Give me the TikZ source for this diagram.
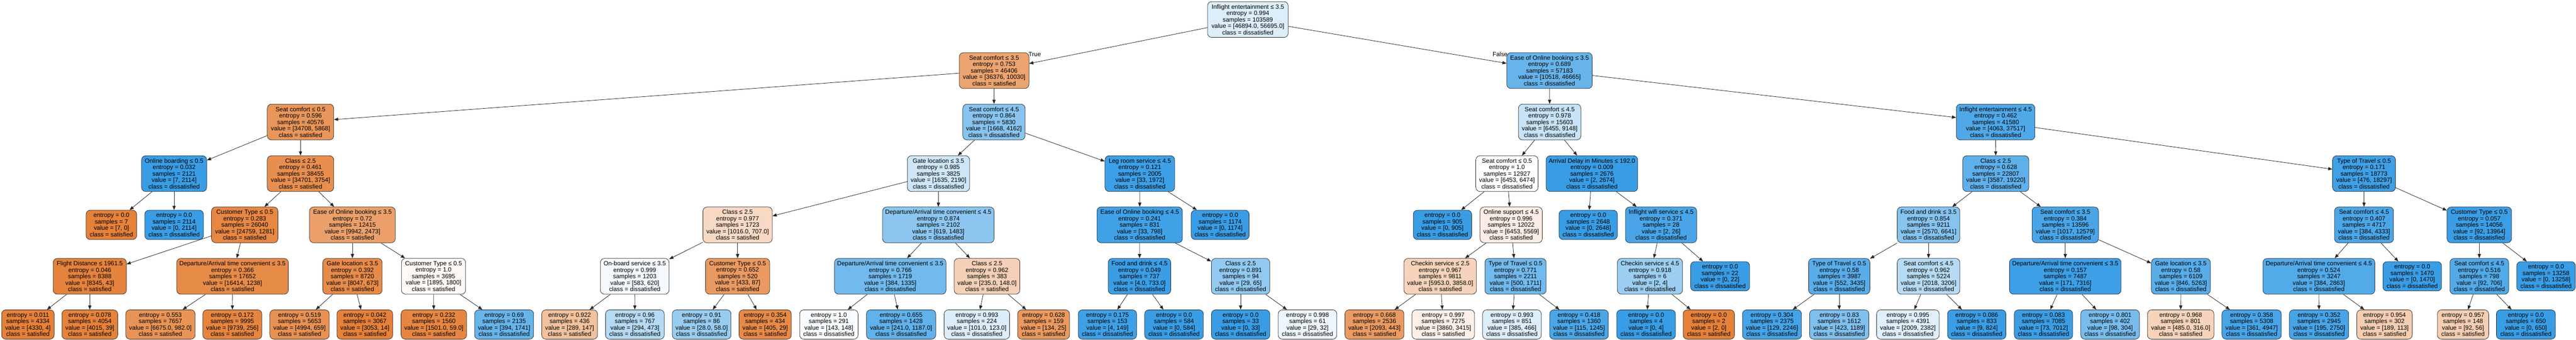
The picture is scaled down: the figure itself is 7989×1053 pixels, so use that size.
\documentclass[tikz,border=0pt]{standalone}
\usepackage{fontspec}
\setmainfont{Liberation Sans}
\usetikzlibrary{arrows.meta}
\definecolor{sat}{RGB}{229,129,57}
\definecolor{dis}{RGB}{57,157,229}
\tikzset{
  tbox/.style={draw=black!85, line width=1.2pt, rounded corners=13pt, inner sep=0pt,
    align=center, font=\fontsize{19}{20}\selectfont, text=black, minimum height=111pt},
  lbox/.style={tbox, minimum height=91pt},
  sfill/.style={fill=sat!#1!white},
  dfill/.style={fill=dis!#1!white},
  edge/.style={draw=black!85, line width=1.3pt, -{Triangle[length=13pt,width=10pt]}},
  tflabel/.style={inner sep=0pt, font=\fontsize{19}{20}\selectfont}
}
\begin{document}
\begin{tikzpicture}[x=1pt,y=-1pt]
\useasboundingbox[fill=white] (0,0) rectangle (7989,1053);
% level 0
\node[tbox,dfill=17,minimum width=250pt] (n0) at (3870,60.5) {Inflight entertainment ≤ 3.5\\entropy = 0.994\\samples = 103589\\value = [46894.0, 56695.0]\\class = dissatisfied};
% level 1
\node[tbox,sfill=72,minimum width=216pt] (n1) at (3083,219) {Seat comfort ≤ 3.5\\entropy = 0.753\\samples = 46406\\value = [36376, 10030]\\class = satisfied};
\node[tbox,dfill=77,minimum width=265pt] (n2) at (4805.5,219) {Ease of Online booking ≤ 3.5\\entropy = 0.689\\samples = 57183\\value = [10518, 46665]\\class = dissatisfied};
% level 2
\node[tbox,sfill=83,minimum width=206pt] (a) at (932,378.5) {Seat comfort ≤ 0.5\\entropy = 0.596\\samples = 40576\\value = [34708, 5868]\\class = satisfied};
\node[tbox,dfill=60,minimum width=193pt] (b) at (3082.5,378.5) {Seat comfort ≤ 4.5\\entropy = 0.864\\samples = 5830\\value = [1668, 4162]\\class = dissatisfied};
\node[tbox,dfill=29,minimum width=194pt] (c) at (4806,378.5) {Seat comfort ≤ 4.5\\entropy = 0.978\\samples = 15603\\value = [6455, 9148]\\class = dissatisfied};
\node[tbox,dfill=89,minimum width=244pt] (d) at (6189,378.5) {Inflight entertainment ≤ 4.5\\entropy = 0.462\\samples = 41580\\value = [4063, 37517]\\class = dissatisfied};
% level 3
\node[tbox,dfill=100,minimum width=202pt] (a1) at (540,538.5) {Online boarding ≤ 0.5\\entropy = 0.032\\samples = 2121\\value = [7, 2114]\\class = dissatisfied};
\node[tbox,sfill=89,minimum width=206pt] (a2) at (932,538.5) {Class ≤ 2.5\\entropy = 0.461\\samples = 38455\\value = [34701, 3754]\\class = satisfied};
\node[tbox,dfill=25,minimum width=193pt] (b1) at (2910.5,538.5) {Gate location ≤ 3.5\\entropy = 0.985\\samples = 3825\\value = [1635, 2190]\\class = dissatisfied};
\node[tbox,dfill=98,minimum width=216pt] (b2) at (3535,538.5) {Leg room service ≤ 4.5\\entropy = 0.121\\samples = 2005\\value = [33, 1972]\\class = dissatisfied};
\node[tbox,dfill=0,minimum width=193pt] (c1) at (4673.5,538.5) {Seat comfort ≤ 0.5\\entropy = 1.0\\samples = 12927\\value = [6453, 6474]\\class = dissatisfied};
\node[tbox,dfill=100,minimum width=284pt] (c2) at (4937,538.5) {Arrival Delay in Minutes ≤ 192.0\\entropy = 0.009\\samples = 2676\\value = [2, 2674]\\class = dissatisfied};
\node[tbox,dfill=81,minimum width=205pt] (d1) at (6189.5,538.5) {Class ≤ 2.5\\entropy = 0.628\\samples = 22807\\value = [3587, 19220]\\class = dissatisfied};
\node[tbox,dfill=97,minimum width=195pt] (d2) at (7331.5,538.5) {Type of Travel ≤ 0.5\\entropy = 0.171\\samples = 18773\\value = [476, 18297]\\class = dissatisfied};
% level 4
\node[lbox,sfill=100,minimum width=157pt] (a1L) at (345.5,697.5) {entropy = 0.0\\samples = 7\\value = [7, 0]\\class = satisfied};
\node[lbox,dfill=100,minimum width=182pt] (a1R) at (540,697.5) {entropy = 0.0\\samples = 2114\\value = [0, 2114]\\class = dissatisfied};
\node[tbox,sfill=95,minimum width=206pt] (a2L) at (759,697.5) {Customer Type ≤ 0.5\\entropy = 0.283\\samples = 26040\\value = [24759, 1281]\\class = satisfied};
\node[tbox,sfill=75,minimum width=266pt] (a2R) at (1093,697.5) {Ease of Online booking ≤ 3.5\\entropy = 0.72\\samples = 12415\\value = [9942, 2473]\\class = satisfied};
\node[tbox,sfill=30,minimum width=215pt] (b1L) at (2287.5,697.5) {Class ≤ 2.5\\entropy = 0.977\\samples = 1723\\value = [1016.0, 707.0]\\class = satisfied};
\node[tbox,dfill=58,minimum width=346pt] (b1R) at (2910,697.5) {Departure/Arrival time convenient ≤ 4.5\\entropy = 0.874\\samples = 2102\\value = [619, 1483]\\class = dissatisfied};
\node[tbox,dfill=96,minimum width=265pt] (b2L) at (3534.5,697.5) {Ease of Online booking ≤ 4.5\\entropy = 0.241\\samples = 831\\value = [33, 798]\\class = dissatisfied};
\node[lbox,dfill=100,minimum width=180pt] (b2R) at (3784,697.5) {entropy = 0.0\\samples = 1174\\value = [0, 1174]\\class = dissatisfied};
\node[lbox,dfill=100,minimum width=181pt] (c1L) at (4473.5,697.5) {entropy = 0.0\\samples = 905\\value = [0, 905]\\class = dissatisfied};
\node[tbox,sfill=14,minimum width=193pt] (c1R) at (4686.5,697.5) {Online support ≤ 4.5\\entropy = 0.996\\samples = 12022\\value = [6453, 5569]\\class = satisfied};
\node[lbox,dfill=100,minimum width=181pt] (c2L) at (4925.5,697.5) {entropy = 0.0\\samples = 2648\\value = [0, 2648]\\class = dissatisfied};
\node[tbox,dfill=92,minimum width=221pt] (c2R) at (5151.5,697.5) {Inflight wifi service ≤ 4.5\\entropy = 0.371\\samples = 28\\value = [2, 26]\\class = dissatisfied};
\node[tbox,dfill=61,minimum width=194pt] (d1L) at (5981,697.5) {Food and drink ≤ 3.5\\entropy = 0.854\\samples = 9211\\value = [2570, 6641]\\class = dissatisfied};
\node[tbox,dfill=92,minimum width=206pt] (d1R) at (6405,697.5) {Seat comfort ≤ 3.5\\entropy = 0.384\\samples = 13596\\value = [1017, 12579]\\class = dissatisfied};
\node[tbox,dfill=91,minimum width=183pt] (d2L) at (7331.5,697.5) {Seat comfort ≤ 4.5\\entropy = 0.407\\samples = 4717\\value = [384, 4333]\\class = dissatisfied};
\node[tbox,dfill=99,minimum width=200pt] (d2R) at (7689,697.5) {Customer Type ≤ 0.5\\entropy = 0.057\\samples = 14056\\value = [92, 13964]\\class = dissatisfied};
% level 5
\node[tbox,sfill=99,minimum width=227pt] (e1) at (278.5,857) {Flight Distance ≤ 1961.5\\entropy = 0.046\\samples = 8388\\value = [8345, 43]\\class = satisfied};
\node[tbox,sfill=92,minimum width=346pt] (e2) at (721,857) {Departure/Arrival time convenient ≤ 3.5\\entropy = 0.366\\samples = 17652\\value = [16414, 1238]\\class = satisfied};
\node[tbox,sfill=92,minimum width=184pt] (e3) at (1093,857) {Gate location ≤ 3.5\\entropy = 0.392\\samples = 8720\\value = [8047, 673]\\class = satisfied};
\node[tbox,sfill=5,minimum width=199pt] (e4) at (1344.5,857) {Customer Type ≤ 0.5\\entropy = 1.0\\samples = 3695\\value = [1895, 1800]\\class = satisfied};
\node[tbox,dfill=6,minimum width=213pt] (e5) at (1968.5,857) {On-board service ≤ 3.5\\entropy = 0.999\\samples = 1203\\value = [583, 620]\\class = dissatisfied};
\node[tbox,sfill=80,minimum width=199pt] (e6) at (2287.5,857) {Customer Type ≤ 0.5\\entropy = 0.652\\samples = 520\\value = [433, 87]\\class = satisfied};
\node[tbox,dfill=71,minimum width=346pt] (e7) at (2761,857) {Departure/Arrival time convenient ≤ 3.5\\entropy = 0.766\\samples = 1719\\value = [384, 1335]\\class = dissatisfied};
\node[tbox,sfill=37,minimum width=204pt] (e8) at (3061,857) {Class ≤ 2.5\\entropy = 0.962\\samples = 383\\value = [235.0, 148.0]\\class = satisfied};
\node[tbox,dfill=99,minimum width=194pt] (e9) at (3534,857) {Food and drink ≤ 4.5\\entropy = 0.049\\samples = 737\\value = [4.0, 733.0]\\class = dissatisfied};
\node[tbox,dfill=55,minimum width=181pt] (e10) at (3847.5,857) {Class ≤ 2.5\\entropy = 0.891\\samples = 94\\value = [29, 65]\\class = dissatisfied};
\node[tbox,sfill=35,minimum width=225pt] (e11) at (4466.5,857) {Checkin service ≤ 2.5\\entropy = 0.967\\samples = 9811\\value = [5953.0, 3858.0]\\class = satisfied};
\node[tbox,dfill=71,minimum width=190pt] (e12) at (4700,857) {Type of Travel ≤ 0.5\\entropy = 0.771\\samples = 2211\\value = [500, 1711]\\class = dissatisfied};
\node[tbox,dfill=50,minimum width=202pt] (e13) at (5117,857) {Checkin service ≤ 4.5\\entropy = 0.918\\samples = 6\\value = [2, 4]\\class = dissatisfied};
\node[lbox,dfill=100,minimum width=183pt] (e14) at (5334.5,857) {entropy = 0.0\\samples = 22\\value = [0, 22]\\class = dissatisfied};
\node[tbox,dfill=84,minimum width=190pt] (e15) at (5704,857) {Type of Travel ≤ 0.5\\entropy = 0.58\\samples = 3987\\value = [552, 3435]\\class = dissatisfied};
\node[tbox,dfill=37,minimum width=194pt] (e16) at (5981,857) {Seat comfort ≤ 4.5\\entropy = 0.962\\samples = 5224\\value = [2018, 3206]\\class = dissatisfied};
\node[tbox,dfill=98,minimum width=346pt] (e17) at (6405,857) {Departure/Arrival time convenient ≤ 3.5\\entropy = 0.157\\samples = 7487\\value = [171, 7316]\\class = dissatisfied};
\node[tbox,dfill=84,minimum width=183pt] (e18) at (6763.5,857) {Gate location ≤ 3.5\\entropy = 0.58\\samples = 6109\\value = [846, 5263]\\class = dissatisfied};
\node[tbox,dfill=87,minimum width=347pt] (e19) at (7191.5,857) {Departure/Arrival time convenient ≤ 4.5\\entropy = 0.524\\samples = 3247\\value = [384, 2863]\\class = dissatisfied};
\node[lbox,dfill=100,minimum width=182pt] (e20) at (7481,857) {entropy = 0.0\\samples = 1470\\value = [0, 1470]\\class = dissatisfied};
\node[tbox,dfill=87,minimum width=182pt] (e21) at (7689,857) {Seat comfort ≤ 4.5\\entropy = 0.516\\samples = 798\\value = [92, 706]\\class = dissatisfied};
\node[lbox,dfill=100,minimum width=182pt] (e22) at (7896,857) {entropy = 0.0\\samples = 13258\\value = [0, 13258]\\class = dissatisfied};
% level 6
\node[lbox,sfill=100,minimum width=163pt] (f1) at (86.5,1006.5) {entropy = 0.011\\samples = 4334\\value = [4330, 4]\\class = satisfied};
\node[lbox,sfill=99,minimum width=173pt] (f2) at (278.5,1006.5) {entropy = 0.078\\samples = 4054\\value = [4015, 39]\\class = satisfied};
\node[lbox,sfill=85,minimum width=215pt] (f3) at (497.5,1006.5) {entropy = 0.553\\samples = 7657\\value = [6675.0, 982.0]\\class = satisfied};
\node[lbox,sfill=97,minimum width=183pt] (f4) at (720.5,1006.5) {entropy = 0.172\\samples = 9995\\value = [9739, 256]\\class = satisfied};
\node[lbox,sfill=87,minimum width=184pt] (f5) at (929,1006.5) {entropy = 0.519\\samples = 5653\\value = [4994, 659]\\class = satisfied};
\node[lbox,sfill=100,minimum width=173pt] (f6) at (1131.5,1006.5) {entropy = 0.042\\samples = 3067\\value = [3053, 14]\\class = satisfied};
\node[lbox,sfill=96,minimum width=203pt] (f7) at (1345.5,1006.5) {entropy = 0.232\\samples = 1560\\value = [1501.0, 59.0]\\class = satisfied};
\node[lbox,dfill=77,minimum width=183pt] (f8) at (1563.5,1006.5) {entropy = 0.69\\samples = 2135\\value = [394, 1741]\\class = dissatisfied};
\node[lbox,sfill=49,minimum width=173pt] (f9) at (1766.5,1006.5) {entropy = 0.922\\samples = 436\\value = [289, 147]\\class = satisfied};
\node[lbox,dfill=38,minimum width=182pt] (f10) at (1969,1006.5) {entropy = 0.96\\samples = 767\\value = [294, 473]\\class = dissatisfied};
\node[lbox,dfill=52,minimum width=182pt] (f11) at (2176,1006.5) {entropy = 0.91\\samples = 86\\value = [28.0, 58.0]\\class = dissatisfied};
\node[lbox,sfill=93,minimum width=162pt] (f12) at (2373,1006.5) {entropy = 0.354\\samples = 434\\value = [405, 29]\\class = satisfied};
\node[lbox,dfill=3,minimum width=181pt] (f13) at (2570.5,1006.5) {entropy = 1.0\\samples = 291\\value = [143, 148]\\class = dissatisfied};
\node[lbox,dfill=80,minimum width=215pt] (f14) at (2794.5,1006.5) {entropy = 0.655\\samples = 1428\\value = [241.0, 1187.0]\\class = dissatisfied};
\node[lbox,dfill=18,minimum width=203pt] (f15) at (3029.5,1006.5) {entropy = 0.993\\samples = 224\\value = [101.0, 123.0]\\class = dissatisfied};
\node[lbox,sfill=81,minimum width=161pt] (f16) at (3236.5,1006.5) {entropy = 0.628\\samples = 159\\value = [134, 25]\\class = satisfied};
\node[lbox,dfill=97,minimum width=181pt] (f17) at (3434.5,1006.5) {entropy = 0.175\\samples = 153\\value = [4, 149]\\class = dissatisfied};
\node[lbox,dfill=100,minimum width=182pt] (f18) at (3641,1006.5) {entropy = 0.0\\samples = 584\\value = [0, 584]\\class = dissatisfied};
\node[lbox,dfill=100,minimum width=181pt] (f19) at (3847.5,1006.5) {entropy = 0.0\\samples = 33\\value = [0, 33]\\class = dissatisfied};
\node[lbox,dfill=9,minimum width=182pt] (f20) at (4055,1006.5) {entropy = 0.998\\samples = 61\\value = [29, 32]\\class = dissatisfied};
\node[lbox,sfill=79,minimum width=183pt] (f21) at (4262.5,1006.5) {entropy = 0.668\\samples = 2536\\value = [2093, 443]\\class = satisfied};
\node[lbox,sfill=12,minimum width=194pt] (f22) at (4476,1006.5) {entropy = 0.997\\samples = 7275\\value = [3860, 3415]\\class = satisfied};
\node[lbox,dfill=17,minimum width=182pt] (f23) at (4689,1006.5) {entropy = 0.993\\samples = 851\\value = [385, 466]\\class = dissatisfied};
\node[lbox,dfill=91,minimum width=182pt] (f24) at (4897,1006.5) {entropy = 0.418\\samples = 1360\\value = [115, 1245]\\class = dissatisfied};
\node[lbox,dfill=100,minimum width=182pt] (f25) at (5105,1006.5) {entropy = 0.0\\samples = 4\\value = [0, 4]\\class = dissatisfied};
\node[lbox,sfill=100,minimum width=159pt] (f26) at (5299.5,1006.5) {entropy = 0.0\\samples = 2\\value = [2, 0]\\class = satisfied};
\node[lbox,dfill=94,minimum width=183pt] (f27) at (5495.5,1006.5) {entropy = 0.304\\samples = 2375\\value = [129, 2246]\\class = dissatisfied};
\node[lbox,dfill=64,minimum width=184pt] (f28) at (5704,1006.5) {entropy = 0.83\\samples = 1612\\value = [423, 1189]\\class = dissatisfied};
\node[lbox,dfill=16,minimum width=194pt] (f29) at (5917,1006.5) {entropy = 0.995\\samples = 4391\\value = [2009, 2382]\\class = dissatisfied};
\node[lbox,dfill=99,minimum width=181pt] (f30) at (6130.5,1006.5) {entropy = 0.086\\samples = 833\\value = [9, 824]\\class = dissatisfied};
\node[lbox,dfill=99,minimum width=181pt] (f31) at (6337.5,1006.5) {entropy = 0.083\\samples = 7085\\value = [73, 7012]\\class = dissatisfied};
\node[lbox,dfill=68,minimum width=182pt] (f32) at (6544,1006.5) {entropy = 0.801\\samples = 402\\value = [98, 304]\\class = dissatisfied};
\node[lbox,sfill=35,minimum width=206pt] (f33) at (6763,1006.5) {entropy = 0.968\\samples = 801\\value = [485.0, 316.0]\\class = satisfied};
\node[lbox,dfill=93,minimum width=184pt] (f34) at (6983,1006.5) {entropy = 0.358\\samples = 5308\\value = [361, 4947]\\class = dissatisfied};
\node[lbox,dfill=93,minimum width=184pt] (f35) at (7192,1006.5) {entropy = 0.352\\samples = 2945\\value = [195, 2750]\\class = dissatisfied};
\node[lbox,sfill=40,minimum width=172pt] (f36) at (7395,1006.5) {entropy = 0.954\\samples = 302\\value = [189, 113]\\class = satisfied};
\node[lbox,sfill=39,minimum width=159pt] (f37) at (7638.5,1006.5) {entropy = 0.957\\samples = 148\\value = [92, 56]\\class = satisfied};
\node[lbox,dfill=100,minimum width=183pt] (f38) at (7833.5,1006.5) {entropy = 0.0\\samples = 650\\value = [0, 650]\\class = dissatisfied};
% edges
\foreach \p/\c in {n0/n1,n0/n2,n1/a,n1/b,n2/c,n2/d,
  a/a1,a/a2,b/b1,b/b2,c/c1,c/c2,d/d1,d/d2,
  a1/a1L,a1/a1R,a2/a2L,a2/a2R,b1/b1L,b1/b1R,b2/b2L,b2/b2R,
  c1/c1L,c1/c1R,c2/c2L,c2/c2R,d1/d1L,d1/d1R,d2/d2L,d2/d2R,
  a2L/e1,a2L/e2,a2R/e3,a2R/e4,b1L/e5,b1L/e6,b1R/e7,b1R/e8,
  b2L/e9,b2L/e10,c1R/e11,c1R/e12,c2R/e13,c2R/e14,d1L/e15,d1L/e16,
  d1R/e17,d1R/e18,d2L/e19,d2L/e20,d2R/e21,d2R/e22,
  e1/f1,e1/f2,e2/f3,e2/f4,e3/f5,e3/f6,e4/f7,e4/f8,e5/f9,e5/f10,
  e6/f11,e6/f12,e7/f13,e7/f14,e8/f15,e8/f16,e9/f17,e9/f18,
  e10/f19,e10/f20,e11/f21,e11/f22,e12/f23,e12/f24,e13/f25,e13/f26,
  e15/f27,e15/f28,e16/f29,e16/f30,e17/f31,e17/f32,e18/f33,e18/f34,
  e19/f35,e19/f36,e21/f37,e21/f38}
  \draw[edge] (\p) -- (\c);
\node[tflabel] (tl) at (3209,168) {True};
\node[tflabel] (fl) at (4652,168) {False};
\end{tikzpicture}
\end{document}
